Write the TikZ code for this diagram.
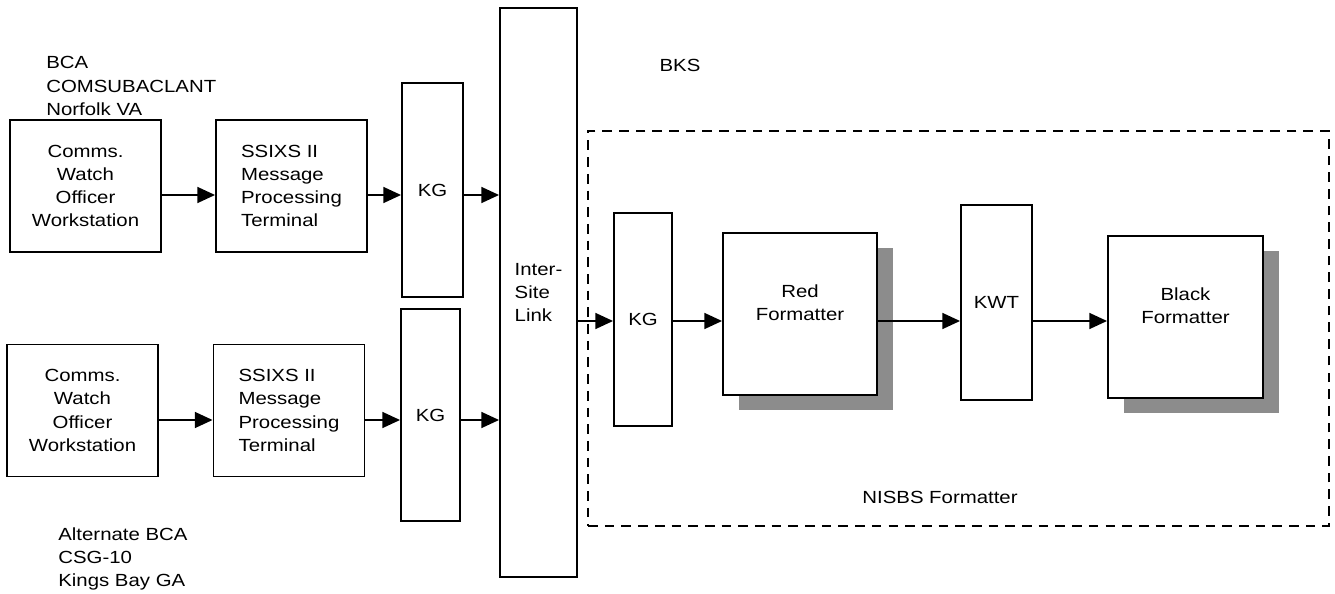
\documentclass[tikz,border=0pt]{standalone}
\usepackage{fontspec}
\setmainfont[FakeStretch=1.16]{Liberation Sans}
\usetikzlibrary{positioning,arrows.meta,shadows}

\tikzset{
  blk/.style={draw,line width=1.1pt,fill=white,inner sep=0pt,align=center,font=\fontsize{10}{13.2}\selectfont},
  wide/.style={blk,minimum width=3.02cm,minimum height=2.64cm},
  tall/.style={blk,minimum width=1.2cm,minimum height=4.26cm},
  shade/.style={drop shadow={shadow xshift=0.32cm,shadow yshift=-0.3cm,fill=black!45,opacity=1}},
  flow/.style={line width=1pt,-{Triangle[length=10pt,width=9pt]}},
  grp/.style={draw,line width=1pt,dash pattern=on 5.5pt off 4pt,inner sep=0pt},
  note/.style={inner sep=0pt,align=left,font=\fontsize{10}{13.2}\selectfont}
}

\begin{document}
\begin{tikzpicture}[x=0.02cm,y=-0.02cm]
  \useasboundingbox (0,0) rectangle (1335,594);
  \coordinate (r1) at (0,195);
  \coordinate (r2) at (0,420);
  \coordinate (r3) at (0,321);

  \node[note,anchor=west] (bca) at (46,86) {BCA\\COMSUBACLANT\\Norfolk VA};
  \node[note,anchor=west] (alt) at (58,559) {Alternate BCA\\CSG-10\\Kings Bay GA};
  \node[note] (bks) at (680,65) {BKS};

  \node[grp,minimum width=14.82cm,minimum height=7.9cm] (nisbs) at (958.5,328.5) {};
  \node[note] (nisbslbl) at (940,497) {NISBS Formatter};

  \node[wide] (cw1) at (85.5,186) {Comms.\\Watch\\Officer\\Workstation};
  \node[wide,align=left] (ss1) at (291.5,186) {SSIXS II\\Message\\Processing\\Terminal};
  \node[tall,minimum width=1.22cm,minimum height=4.28cm] (kg1) at (432.5,190) {KG};

  \node[wide] (cw2) at (82.5,410.5) {Comms.\\Watch\\Officer\\Workstation};
  \node[wide,align=left] (ss2) at (289,410.5) {SSIXS II\\Message\\Processing\\Terminal};
  \node[tall,minimum width=1.18cm,minimum height=4.24cm] (kg2) at (430.5,415) {KG};

  \node[blk,align=left,minimum width=1.54cm,minimum height=11.38cm] (link) at (538.5,292.5) {Inter-\\Site\\Link};

  \node[tall,minimum width=1.16cm] (kg3) at (643,319.5) {KG};
  \node[blk,shade,minimum width=3.08cm,minimum height=3.24cm] (red) at (800,314) {Red\\Formatter\\\phantom{R}};
  \node[blk,minimum width=1.42cm,minimum height=3.9cm] (kwt) at (996.5,302.5) {KWT};
  \node[blk,shade,minimum width=3.1cm,minimum height=3.24cm] (black) at (1185.5,317) {Black\\Formatter\\\phantom{B}};

  \draw[flow] (cw1.east |- r1) -- (ss1.west |- r1);
  \draw[flow] (ss1.east |- r1) -- (kg1.west |- r1);
  \draw[flow] (kg1.east |- r1) -- (link.west |- r1);
  \draw[flow] (cw2.east |- r2) -- (ss2.west |- r2);
  \draw[flow] (ss2.east |- r2) -- (kg2.west |- r2);
  \draw[flow] (kg2.east |- r2) -- (link.west |- r2);
  \draw[flow] (link.east |- r3) -- (kg3.west |- r3);
  \draw[flow] (kg3.east |- r3) -- (red.west |- r3);
  \draw[flow] (red.east |- r3) -- (kwt.west |- r3);
  \draw[flow] (kwt.east |- r3) -- (black.west |- r3);
\end{tikzpicture}
\end{document}
